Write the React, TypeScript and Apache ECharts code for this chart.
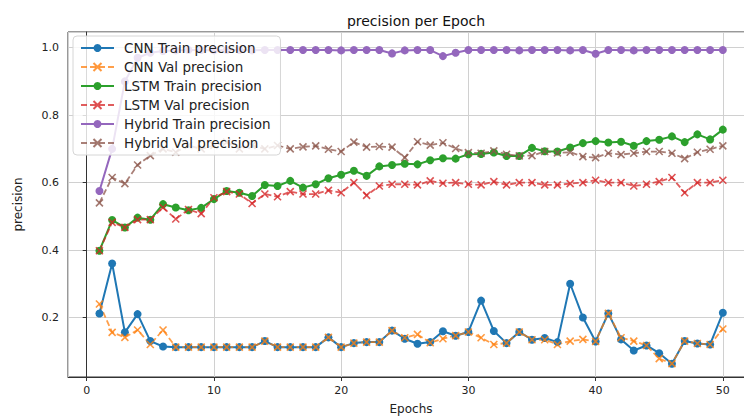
import React, { useEffect, useRef } from "react";
import * as echarts from "echarts";

const epochs = [1, 2, 3, 4, 5, 6, 7, 8, 9, 10, 11, 12, 13, 14, 15, 16, 17, 18, 19, 20, 21, 22, 23, 24, 25, 26, 27, 28, 29, 30, 31, 32, 33, 34, 35, 36, 37, 38, 39, 40, 41, 42, 43, 44, 45, 46, 47, 48, 49, 50];

const cnnTrain = [0.212, 0.36, 0.156, 0.21, 0.13, 0.114, 0.112, 0.112, 0.112, 0.112, 0.112, 0.112, 0.112, 0.13, 0.112, 0.112, 0.112, 0.112, 0.141, 0.112, 0.124, 0.127, 0.127, 0.161, 0.137, 0.122, 0.127, 0.159, 0.146, 0.157, 0.25, 0.16, 0.124, 0.157, 0.134, 0.139, 0.127, 0.3, 0.2, 0.129, 0.212, 0.135, 0.102, 0.117, 0.094, 0.063, 0.13, 0.123, 0.12, 0.214];
const cnnVal = [0.24, 0.156, 0.141, 0.163, 0.12, 0.163, 0.112, 0.112, 0.112, 0.112, 0.112, 0.112, 0.112, 0.13, 0.112, 0.112, 0.112, 0.112, 0.141, 0.112, 0.124, 0.127, 0.127, 0.161, 0.14, 0.15, 0.125, 0.137, 0.146, 0.157, 0.14, 0.12, 0.124, 0.157, 0.134, 0.134, 0.12, 0.13, 0.135, 0.129, 0.212, 0.14, 0.13, 0.117, 0.078, 0.063, 0.13, 0.123, 0.12, 0.166];
const lstmTrain = [0.398, 0.489, 0.467, 0.496, 0.49, 0.536, 0.526, 0.518, 0.525, 0.551, 0.575, 0.57, 0.56, 0.593, 0.59, 0.605, 0.585, 0.595, 0.613, 0.623, 0.635, 0.62, 0.648, 0.652, 0.656, 0.654, 0.666, 0.672, 0.671, 0.684, 0.685, 0.689, 0.679, 0.679, 0.703, 0.693, 0.692, 0.704, 0.717, 0.723, 0.719, 0.721, 0.709, 0.723, 0.727, 0.737, 0.72, 0.743, 0.728, 0.757];
const lstmVal = [0.398, 0.482, 0.467, 0.49, 0.49, 0.526, 0.492, 0.52, 0.508, 0.555, 0.573, 0.566, 0.538, 0.566, 0.558, 0.573, 0.566, 0.566, 0.577, 0.57, 0.6, 0.562, 0.59, 0.595, 0.595, 0.593, 0.605, 0.598, 0.6, 0.595, 0.593, 0.603, 0.593, 0.6, 0.6, 0.593, 0.593, 0.597, 0.6, 0.607, 0.6, 0.6, 0.59, 0.595, 0.603, 0.615, 0.57, 0.6, 0.6, 0.607];
const hybridTrain = [0.575, 0.7, 0.9, 0.97, 0.985, 0.99, 0.992, 0.993, 0.993, 0.992, 0.993, 0.993, 0.992, 0.993, 0.993, 0.993, 0.993, 0.993, 0.993, 0.992, 0.993, 0.993, 0.993, 0.983, 0.992, 0.993, 0.993, 0.975, 0.985, 0.993, 0.993, 0.993, 0.993, 0.992, 0.993, 0.993, 0.993, 0.992, 0.993, 0.982, 0.993, 0.993, 0.992, 0.993, 0.993, 0.993, 0.993, 0.993, 0.993, 0.993];
const hybridVal = [0.54, 0.615, 0.597, 0.652, 0.68, 0.7, 0.69, 0.71, 0.7, 0.71, 0.72, 0.7, 0.71, 0.7, 0.71, 0.7, 0.706, 0.709, 0.699, 0.692, 0.72, 0.705, 0.707, 0.705, 0.674, 0.721, 0.711, 0.718, 0.701, 0.689, 0.687, 0.694, 0.684, 0.679, 0.68, 0.692, 0.688, 0.69, 0.677, 0.674, 0.687, 0.683, 0.687, 0.692, 0.692, 0.687, 0.671, 0.69, 0.699, 0.709];

const seriesNames = [
  "CNN Train precision",
  "CNN Val precision",
  "LSTM Train precision",
  "LSTM Val precision",
  "Hybrid Train precision",
  "Hybrid Val precision",
];
const seriesValues = [cnnTrain, cnnVal, lstmTrain, lstmVal, hybridTrain, hybridVal];
const seriesColors = ["#1f77b4", "#ff7f0e", "#2ca02c", "#d62728", "#9467bd", "#8c564b"];

const X_SYMBOL = "path://M0,0L10,10M0,10L10,0";
const FONT = "DejaVu Sans";

export default function App() {
  const ref = useRef<HTMLDivElement>(null);
  useEffect(() => {
    if (!ref.current) return;
    const chart = echarts.init(ref.current, null, { renderer: "svg" });
    const series = seriesNames.map((name, i) => {
      const isVal = i % 2 === 1;
      const color = seriesColors[i];
      const data = epochs.map((e, j) => [e, seriesValues[i][j]]);
      if (!isVal) {
        return {
          type: "line",
          name,
          data,
          symbol: "circle",
          symbolSize: 8,
          lineStyle: { color, width: 2 },
          itemStyle: { color },
          z: 2,
        };
      }
      return {
        type: "line",
        name,
        data,
        symbol: X_SYMBOL,
        symbolSize: 7,
        lineStyle: { color, width: 1.8, type: [6, 3], opacity: 0.75 },
        itemStyle: { color, borderColor: color, borderWidth: 1.6, opacity: 0.8 },
        z: 2,
      };
    });
    chart.setOption({
      animation: false,
      backgroundColor: "#ffffff",
      textStyle: { fontFamily: FONT },
      title: {
        text: "precision per Epoch",
        left: 411,
        textAlign: "center",
        top: 9,
        textStyle: { fontFamily: FONT, fontSize: 14, fontWeight: "normal", color: "#111" },
      },
      legend: {
        orient: "vertical",
        left: 73,
        top: 36,
        z: 20,
        itemWidth: 33,
        itemHeight: 10,
        itemGap: 5,
        padding: [5, 10, 5, 7],
        backgroundColor: "rgba(255,255,255,0.82)",
        borderColor: "#d6d6d6",
        borderWidth: 1,
        borderRadius: 4,
        textStyle: {
          fontFamily: FONT,
          fontSize: 13.5,
          color: "#222",
          lineHeight: 13,
          padding: [0, 0, 0, 5],
        },
        data: seriesNames,
      },
      grid: {
        left: 68,
        top: 32,
        right: 6,
        bottom: 42,
        show: true,
        borderColor: "#333",
        borderWidth: 1,
      },
      xAxis: {
        type: "value",
        min: -1.47,
        max: 52.45,
        splitNumber: 5,
        minInterval: 10,
        maxInterval: 10,
        name: "Epochs",
        nameLocation: "middle",
        nameGap: 26,
        nameTextStyle: { fontFamily: FONT, fontSize: 12, color: "#222" },
        axisLine: { show: true, lineStyle: { color: "#333", width: 1 } },
        axisTick: { show: true, length: 4, lineStyle: { color: "#333" } },
        axisLabel: {
          showMinLabel: false,
          showMaxLabel: false,
          fontFamily: FONT,
          fontSize: 11,
          color: "#222",
          margin: 8,
        },
        splitLine: { show: true, lineStyle: { color: "#d0d0d0", width: 1 } },
      },
      yAxis: {
        type: "value",
        min: 0.0235,
        max: 1.0465,
        splitNumber: 5,
        minInterval: 0.2,
        maxInterval: 0.2,
        name: "precision",
        nameLocation: "middle",
        nameGap: 44,
        nameTextStyle: { fontFamily: FONT, fontSize: 12, color: "#222" },
        axisLine: { show: true, lineStyle: { color: "#333", width: 1 } },
        axisTick: { show: true, length: 4, lineStyle: { color: "#333" } },
        axisLabel: {
          showMinLabel: false,
          showMaxLabel: false,
          fontFamily: FONT,
          fontSize: 11,
          color: "#222",
          margin: 9,
          formatter: (v: number) => v.toFixed(1),
        },
        splitLine: { show: true, lineStyle: { color: "#d0d0d0", width: 1 } },
      },
      series,
    });
    return () => chart.dispose();
  }, []);
  return (
    <div style={{ position: "absolute", left: 0, top: 0, width: 744, height: 420, overflow: "hidden" }}>
      <div ref={ref} style={{ width: 760, height: 420 }} />
    </div>
  );
}
